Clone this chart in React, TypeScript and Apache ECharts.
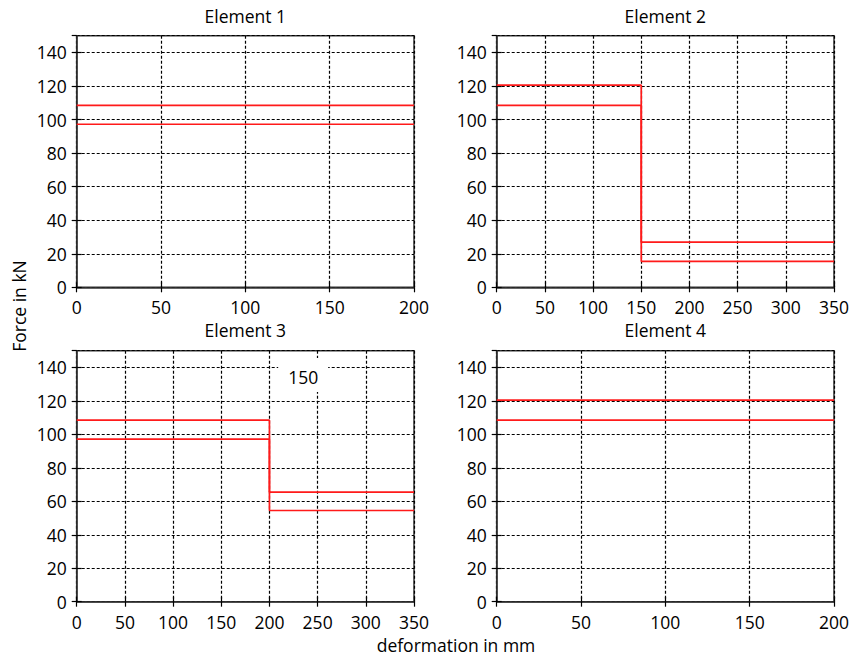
import React, { useEffect, useRef } from "react";
import * as echarts from "echarts";

const panelTitles = ["Element 1", "Element 2", "Element 3", "Element 4"];
const xMaxes = [200, 350, 350, 200];
const yMax = 150;
const yInterval = 20;
const xInterval = 50;

const el1Upper = [[0, 108.5], [200, 108.5]];
const el1Lower = [[0, 97.2], [200, 97.2]];
const el2Upper = [[0, 120.5], [150, 120.5], [150, 26.9], [350, 26.9]];
const el2Lower = [[0, 108.5], [150, 108.5], [150, 15.5], [350, 15.5]];
const el3Upper = [[0, 108.5], [200, 108.5], [200, 65.5], [350, 65.5]];
const el3Lower = [[0, 97.2], [200, 97.2], [200, 54.5], [350, 54.5]];
const el4Upper = [[0, 120.5], [200, 120.5]];
const el4Lower = [[0, 108.5], [200, 108.5]];

const panelSeries = [
  [el1Upper, el1Lower],
  [el2Upper, el2Lower],
  [el3Upper, el3Lower],
  [el4Upper, el4Lower],
];

const strayLabel = { text: "150", at: [235, 135.5] };

const yAxisTitle = "Force in kN";
const xAxisTitle = "deformation in mm";

const FONT = "'Open Sans', sans-serif";
const FS = 17.5;

export default function App() {
  const ref = useRef<HTMLDivElement>(null);
  useEffect(() => {
    if (!ref.current) return;
    const chart = echarts.init(ref.current, null, { renderer: "svg" });
    const grids = [
      { left: 76.7, top: 35.7, width: 337.3, height: 251.6 },
      { left: 496.7, top: 35.7, width: 337.3, height: 251.6 },
      { left: 76.7, top: 350.7, width: 337.3, height: 251 },
      { left: 496.7, top: 350.7, width: 337.3, height: 251 },
    ].map((g) => ({
      ...g,
      show: true,
      borderColor: "#333",
      borderWidth: 1.5,
      backgroundColor: "transparent",
      containLabel: false,
    }));
    const titleCenters = [
      [245.3, 7],
      [665.3, 7],
      [245.3, 321],
      [665.3, 321],
    ];
    const xAxes: any[] = [];
    const yAxes: any[] = [];
    panelTitles.forEach((_, i) => {
      xAxes.push({
        type: "value",
        gridIndex: i,
        min: 0,
        max: xMaxes[i],
        interval: xInterval,
        axisLine: { show: true, onZero: false, lineStyle: { color: "#333", width: 1.5 } },
        axisTick: { show: true, inside: true, length: 5, lineStyle: { color: "#000", width: 1.2 } },
        axisLabel: { show: true, margin: 11, color: "#000", fontSize: FS, fontFamily: FONT },
        splitLine: { show: true, lineStyle: { color: "#000", width: 1.2, type: [3, 2] } },
      });
      xAxes.push({
        type: "value",
        gridIndex: i,
        position: "top",
        min: 0,
        max: xMaxes[i],
        interval: xInterval,
        axisLine: { show: false },
        axisTick: { show: true, inside: true, length: 5, lineStyle: { color: "#000", width: 1.2 } },
        axisLabel: { show: false },
        splitLine: { show: false },
      });
      yAxes.push({
        type: "value",
        gridIndex: i,
        min: 0,
        max: yMax,
        interval: yInterval,
        axisLine: { show: true, onZero: false, lineStyle: { color: "#333", width: 1.5 } },
        axisTick: { show: true, inside: true, length: 5, lineStyle: { color: "#000", width: 1.2 } },
        axisLabel: { show: true, margin: 10, color: "#000", fontSize: FS, fontFamily: FONT, showMaxLabel: false },
        splitLine: { show: true, lineStyle: { color: "#000", width: 1.2, type: [3, 2] } },
      });
      yAxes.push({
        type: "value",
        gridIndex: i,
        position: "right",
        min: 0,
        max: yMax,
        interval: yInterval,
        axisLine: { show: false },
        axisTick: { show: true, inside: true, length: 5, lineStyle: { color: "#000", width: 1.2 } },
        axisLabel: { show: false },
        splitLine: { show: false },
      });
    });
    const series: any[] = [];
    panelSeries.forEach((lines, i) => {
      lines.forEach((d) => {
        series.push({
          type: "line",
          xAxisIndex: i * 2,
          yAxisIndex: i * 2,
          data: d,
          showSymbol: false,
          symbol: "none",
          lineStyle: { color: "#ff1a1a", width: 1.7 },
          z: 3,
        });
      });
    });
    series.push({
      type: "scatter",
      xAxisIndex: 4,
      yAxisIndex: 4,
      data: [strayLabel.at],
      symbol: "rect",
      symbolSize: [50, 34],
      itemStyle: { color: "#fff", opacity: 1 },
      label: {
        show: true,
        position: "inside",
        formatter: strayLabel.text,
        color: "#000",
        fontSize: FS,
        fontFamily: FONT,
        offset: [0, 2],
      },
      emphasis: { disabled: true },
      silent: true,
      z: 2,
    });
    chart.setOption({
      animation: false,
      backgroundColor: "#fff",
      textStyle: { fontFamily: FONT },
      title: panelTitles.map((t, i) => ({
        text: t,
        left: titleCenters[i][0],
        top: titleCenters[i][1],
        textAlign: "center",
        padding: 0,
        textStyle: { fontSize: FS, fontWeight: "normal", color: "#000", fontFamily: FONT },
      })),
      grid: grids,
      xAxis: xAxes,
      yAxis: yAxes,
      series,
      graphic: [
        {
          type: "text",
          x: 19,
          y: 306,
          rotation: Math.PI / 2,
          style: {
            text: yAxisTitle,
            fontSize: FS,
            fontFamily: FONT,
            fill: "#000",
            textAlign: "center",
            textVerticalAlign: "middle",
          },
        },
        {
          type: "text",
          x: 456,
          y: 645,
          style: {
            text: xAxisTitle,
            fontSize: FS,
            fontFamily: FONT,
            fill: "#000",
            textAlign: "center",
            textVerticalAlign: "middle",
          },
        },
      ],
    });
    return () => chart.dispose();
  }, []);
  return (
    <div
      ref={ref}
      style={{ position: "fixed", left: 0, top: 0, width: 852, height: 657, background: "#fff" }}
    />
  );
}
